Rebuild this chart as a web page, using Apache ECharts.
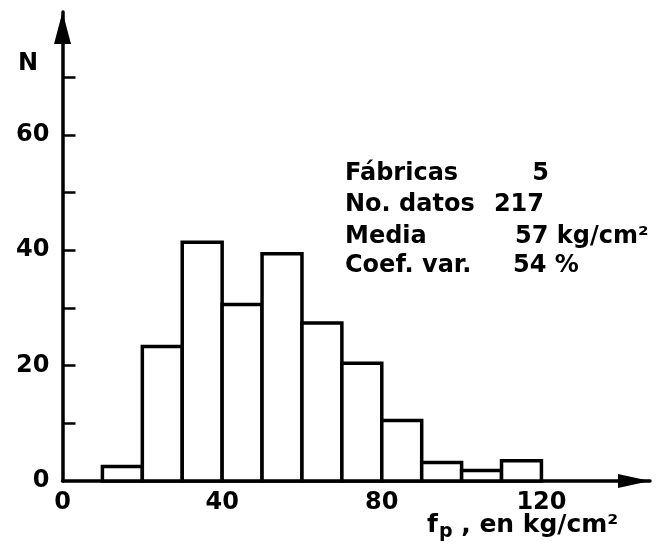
<!DOCTYPE html>
<html>
<head>
<meta charset="utf-8">
<script src="https://cdn.jsdelivr.net/npm/echarts@6/dist/echarts.min.js"></script>
<style>html,body{margin:0;padding:0;background:#fff}#c{width:658px;height:548px}</style>
</head>
<body>
<div id="c"></div>
<script>
// Histogram data (bins of width 10, kg/cm2)
const binStarts = [10, 20, 30, 40, 50, 60, 70, 80, 90, 100, 110];
const binWidth = 10;
const counts = [2.5, 23.3, 41.4, 30.6, 39.4, 27.4, 20.4, 10.5, 3.2, 1.8, 3.5];
const xTickLabels = [0, 40, 80, 120];
const yTickLabels = [0, 20, 40, 60];
const yMinorTicks = [10, 20, 30, 40, 50, 60, 70];
const infoLabels = ['Fábricas', 'No. datos', 'Media', 'Coef. var.'];
const infoValues = ['5', '217', '57 kg/cm²', '54 %'];

const FONT = 'DejaVu Sans';
const chart = echarts.init(document.getElementById('c'), null, {renderer: 'canvas'});

const data = binStarts.map((s, i) => [s, s + binWidth, counts[i]]);

const valueX = [549, 544, 515, 513];
const valueAlign = ['right', 'right', 'left', 'left'];
const rowY = [174, 205, 237, 266];
const graphics = [];
infoLabels.forEach((t, i) => {
  graphics.push({type: 'text', x: 345, y: rowY[i],
    style: {text: t, font: 'bold 24px "' + FONT + '"', fill: '#000', align: 'left', verticalAlign: 'middle'}});
  graphics.push({type: 'text', x: valueX[i], y: rowY[i],
    style: {text: infoValues[i], font: 'bold 24px "' + FONT + '"', fill: '#000', align: valueAlign[i], verticalAlign: 'middle'}});
});
graphics.push({type: 'text', x: 28, y: 64,
  style: {text: 'N', font: 'bold 24px "' + FONT + '"', fill: '#000', align: 'center', verticalAlign: 'middle'}});
graphics.push({type: 'text', x: 427, y: 525,
  style: {text: '{m|f}{s|p}{m| , en kg/cm²}', verticalAlign: 'middle', fill: '#000',
    rich: {m: {font: 'bold 25px "' + FONT + '"', fill: '#000'}, s: {font: 'bold 19px "' + FONT + '"', fill: '#000', padding: [14, 0, 0, 1]}}}});

chart.setOption({
  backgroundColor: '#fff',
  animation: false,
  grid: {left: 62.5, right: 8, top: 12, bottom: 67, containLabel: false},
  xAxis: {
    type: 'value', min: 0, max: 147.2,
    splitLine: {show: false},
    axisLine: {show: true, lineStyle: {color: '#000', width: 3.5}, symbol: ['none', 'triangle'], symbolSize: [14, 32], symbolOffset: [0, -16]},
    axisTick: {show: false},
    axisLabel: {customValues: xTickLabels, color: '#000', fontFamily: FONT, fontWeight: 'bold', fontSize: 24, margin: 10}
  },
  yAxis: {
    type: 'value', min: 0, max: 81.3,
    splitLine: {show: false},
    axisLine: {show: true, lineStyle: {color: '#000', width: 3.5}, symbol: ['none', 'triangle'], symbolSize: [17, 32], symbolOffset: [0, -16]},
    axisTick: {show: true, inside: true, length: 13, customValues: yMinorTicks, lineStyle: {color: '#000', width: 2.5}},
    axisLabel: {customValues: yTickLabels, color: '#000', fontFamily: FONT, fontWeight: 'bold', fontSize: 24, margin: 13}
  },
  series: [{
    type: 'custom',
    data: data,
    renderItem: function (params, api) {
      const p0 = api.coord([api.value(0), 0]);
      const p1 = api.coord([api.value(1), api.value(2)]);
      return {
        type: 'rect',
        shape: {x: p0[0], y: p1[1], width: p1[0] - p0[0], height: p0[1] - p1[1]},
        style: {fill: '#fff', stroke: '#000', lineWidth: 3.5}
      };
    }
  }],
  graphic: graphics
});
</script>
</body>
</html>
